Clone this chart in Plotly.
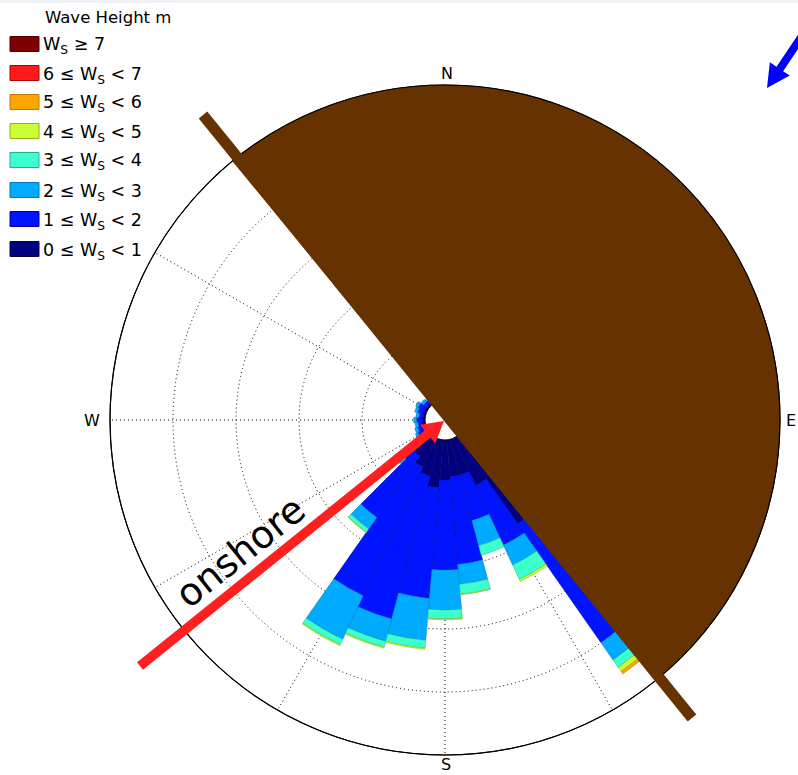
import math
import plotly.graph_objects as go

# Wave direction bins (degrees clockwise from north, 10-degree sectors)
directions = [140, 150, 160, 170, 180, 190, 200, 210, 220, 230,
              240, 250, 260, 270, 280, 290, 300, 310, 320]

# Frequency of occurrence (%) for each significant wave height class
freq_0_1 = [5.10, 2.48, 1.76, 1.76, 1.90, 2.29, 1.81, 1.52, 1.14, 0.57,
            0.14, 0.10, 0.10, 0.12, 0.10, 0.10, 0.12, 0.10, 0.08]
freq_1_2 = [6.90, 3.14, 2.24, 4.19, 4.29, 5.29, 7.05, 6.76, 3.57, 1.10,
            0.33, 0.30, 0.24, 0.28, 0.20, 0.30, 0.33, 0.20, 0.20]
freq_2_3 = [1.00, 1.05, 1.24, 0.95, 1.90, 2.00, 1.10, 2.29, 0.67, 0.33,
            0.14, 0.14, 0.14, 0.14, 0.14, 0.14, 0.14, 0.14, 0.10]
freq_3_4 = [0.43, 0.76, 0.47, 0.48, 0.43, 0.38, 0.29, 0.29, 0.19, 0.05,
            0, 0, 0, 0, 0, 0, 0, 0, 0]
freq_4_5 = [0.24, 0.10, 0.00, 0.02, 0.05, 0.05, 0.05, 0.05, 0.02, 0,
            0, 0, 0, 0, 0, 0, 0, 0, 0]
freq_5_6 = [0.14, 0, 0, 0, 0, 0, 0, 0, 0, 0,
            0, 0, 0, 0, 0, 0, 0, 0, 0]
freq_6_7 = [0] * len(directions)
freq_7_up = [0] * len(directions)

classes = [freq_0_1, freq_1_2, freq_2_3, freq_3_4, freq_4_5, freq_5_6, freq_6_7, freq_7_up]
class_labels = ["0 ≤ W<sub>S</sub> &lt; 1", "1 ≤ W<sub>S</sub> &lt; 2", "2 ≤ W<sub>S</sub> &lt; 3",
                "3 ≤ W<sub>S</sub> &lt; 4", "4 ≤ W<sub>S</sub> &lt; 5", "5 ≤ W<sub>S</sub> &lt; 6",
                "6 ≤ W<sub>S</sub> &lt; 7", "W<sub>S</sub> ≥ 7"]
class_colors = ["#000080", "#0014ff", "#00aaff", "#3cffcc", "#ccff33", "#ffa500", "#ff1a1a", "#800000"]
edge_colors = ["#00004a", "#0000a0", "#0077bb", "#20b090", "#90b020", "#c07800", "#b00000", "#500000"]

radial_max = 15
radial_ticks = [3, 6, 9, 12, 15]
compass_labels = ["N", "E", "S", "W"]

W, H = 798, 775
CX, CY, R = 445.0, 420.0, 335.0
HOLE = 20.0


def px(x):
    return x / W


def py(y):
    return 1 - y / H


def polar_px(bearing, r):
    b = math.radians(bearing)
    return CX + r * math.sin(b), CY - r * math.cos(b)


def path_from(points, close=True):
    s = "M " + " L ".join(f"{px(x):.5f},{py(y):.5f}" for x, y in points)
    return s + (" Z" if close else "")


def arrow_points(tail, tip, shaft_hw, head_len, head_hw):
    dx, dy = tip[0] - tail[0], tip[1] - tail[1]
    L = math.hypot(dx, dy)
    ux, uy = dx / L, dy / L
    nx, ny = -uy, ux
    bx, by = tip[0] - ux * head_len, tip[1] - uy * head_len
    return [
        (tail[0] + nx * shaft_hw, tail[1] + ny * shaft_hw),
        (bx + nx * shaft_hw, by + ny * shaft_hw),
        (bx + nx * head_hw, by + ny * head_hw),
        tip,
        (bx - nx * head_hw, by - ny * head_hw),
        (bx - nx * shaft_hw, by - ny * shaft_hw),
        (tail[0] - nx * shaft_hw, tail[1] - ny * shaft_hw),
    ]


fig = go.Figure()
for vals, lab, col, ecol in zip(classes, class_labels, class_colors, edge_colors):
    fig.add_trace(go.Barpolar(
        r=vals, theta=directions, width=[10] * len(directions), name=lab,
        marker=dict(color=col, line=dict(color=ecol, width=0.5)),
        showlegend=False,
    ))

shapes = []
# thin band along the top of the page
shapes.append(dict(type="rect", xref="paper", yref="paper", x0=0, x1=1, y0=py(3), y1=1,
                   fillcolor="#eef2f7", line=dict(width=0), layer="above"))

# land: half disc on the north-east side of the coastline
coast_bearing = 140.6
land = [polar_px(coast_bearing - 180 + k * 1.0, R) for k in range(181)]
land.append((CX, CY))
shapes.append(dict(type="path", xref="paper", yref="paper", path=path_from(land),
                   fillcolor="#663300", line=dict(width=0), layer="above"))

# outer rim of the rose
shapes.append(dict(type="circle", xref="paper", yref="paper",
                   x0=px(CX - R), x1=px(CX + R), y0=py(CY + R), y1=py(CY - R),
                   line=dict(color="black", width=1.2), layer="above"))

# coastline bar
shapes.append(dict(type="line", xref="paper", yref="paper",
                   x0=px(203), y0=py(115), x1=px(692), y1=py(718),
                   line=dict(color="#663300", width=11), layer="above"))

# onshore arrow
shapes.append(dict(type="path", xref="paper", yref="paper",
                   path=path_from(arrow_points((140, 666), (444, 421), 4.7, 21, 12)),
                   fillcolor="#ff1f1f", line=dict(width=0), layer="above"))

# north-east arrow at the corner
shapes.append(dict(type="path", xref="paper", yref="paper",
                   path=path_from(arrow_points((812, 21), (767, 88), 4.0, 23, 12)),
                   fillcolor="#0000ff", line=dict(width=0), layer="above"))

# legend swatches
leg_y = [44, 73, 102, 131, 160, 190, 219, 249]
order = list(range(len(classes)))[::-1]
for yc, idx in zip(leg_y, order):
    shapes.append(dict(type="rect", xref="paper", yref="paper",
                       x0=px(10), x1=px(39), y0=py(yc + 7.5), y1=py(yc - 7.5),
                       fillcolor=class_colors[idx], line=dict(color=edge_colors[idx], width=1),
                       layer="above"))

annotations = []
annotations.append(dict(xref="paper", yref="paper", x=px(108), y=py(17), text="Wave Height m",
                        showarrow=False, xanchor="center", yanchor="middle",
                        font=dict(size=16.5, color="black")))
for yc, idx in zip(leg_y, order):
    annotations.append(dict(xref="paper", yref="paper", x=px(41), y=py(yc + 2), text=class_labels[idx],
                            showarrow=False, xanchor="left", yanchor="middle",
                            font=dict(size=17.5, color="black")))

compass_pos = [(447, 73), (791, 420), (446, 764), (92, 420)]
for lab, (x, y) in zip(compass_labels, compass_pos):
    annotations.append(dict(xref="paper", yref="paper", x=px(x), y=py(y), text=lab,
                            showarrow=False, xanchor="center", yanchor="middle",
                            font=dict(size=16, color="black")))

annotations.append(dict(xref="paper", yref="paper", x=px(240), y=py(552), text="onshore",
                        showarrow=False, xanchor="center", yanchor="middle", textangle=-38.6,
                        font=dict(size=38, color="black")))

fig.update_layout(
    width=W, height=H,
    margin=dict(l=0, r=0, t=0, b=0),
    paper_bgcolor="white",
    font=dict(family="DejaVu Sans"),
    polar=dict(
        domain=dict(x=[px(CX - R), px(CX + R)], y=[py(CY + R), py(CY - R)]),
        hole=HOLE / R,
        bgcolor="white",
        barmode="stack",
        radialaxis=dict(range=[0, radial_max], tickvals=radial_ticks, showticklabels=False,
                        ticks="", showline=False, gridcolor="black", griddash="1px,3px",
                        gridwidth=1),
        angularaxis=dict(direction="clockwise", rotation=90, tickmode="array",
                         tickvals=list(range(0, 360, 30)), showticklabels=False, ticks="",
                         showline=True, linecolor="black", linewidth=1,
                         gridcolor="black", griddash="1px,3px", gridwidth=1),
    ),
    shapes=shapes,
    annotations=annotations,
)

fig.write_html("out.html")
